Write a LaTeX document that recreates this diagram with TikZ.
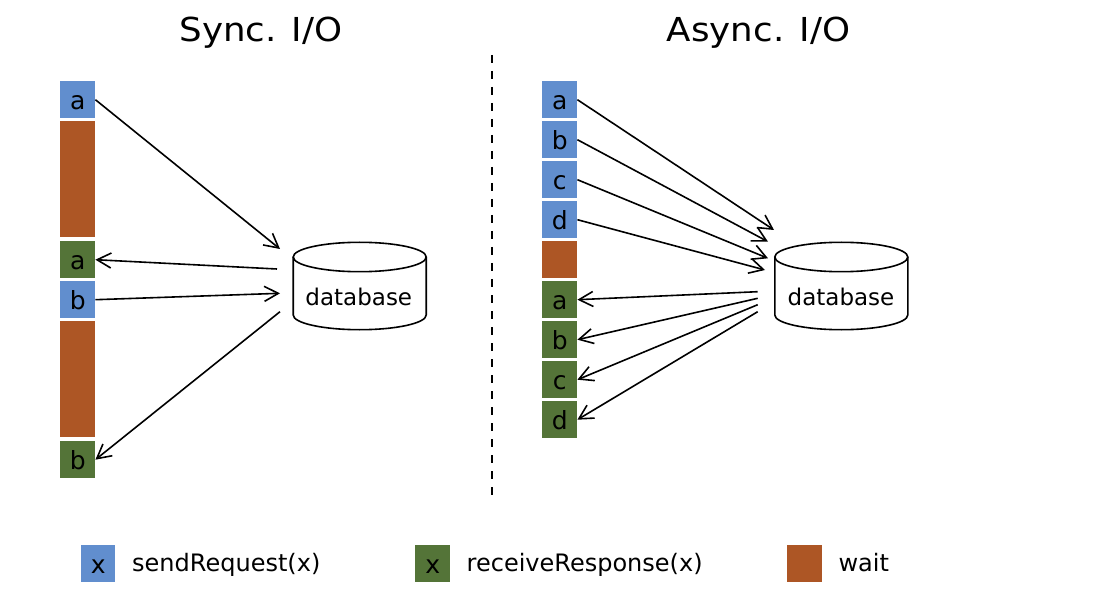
\documentclass[tikz,border=0pt]{standalone}
\usepackage{fontspec}
\setmainfont{DejaVu Sans}
\usetikzlibrary{arrows.meta,calc}
\definecolor{reqblue}{RGB}{97,142,206}
\definecolor{respgreen}{RGB}{84,116,56}
\definecolor{waitorange}{RGB}{173,86,37}
\begin{document}
\begin{tikzpicture}[x=1pt,y=-1pt,
  cell/.style={minimum width=35pt,minimum height=37pt,inner sep=0pt,
    text height=19.8pt,text depth=0pt,
    font=\fontsize{25}{25}\selectfont,anchor=north west},
  req/.style={cell,fill=reqblue},
  resp/.style={cell,fill=respgreen},
  waitbox/.style={cell,fill=waitorange},
  msg/.style={-{Straight Barb[length=14pt,width=15pt]},line width=1.6pt},
  title/.style={font=\fontsize{33}{33}\selectfont,anchor=base,inner sep=0pt},
  dblabel/.style={font=\fontsize{23}{23}\selectfont,inner sep=0pt},
  drum/.style={line width=1.6pt},
  legendtext/.style={font=\fontsize{24}{24}\selectfont,anchor=base west,inner sep=0pt},
]
\useasboundingbox (0,0) rectangle (1098,604);

% titles and separator
\node[title] (tsync) at (261,42) {\scalebox{1.08}[1]{Sync. I/O}};
\node[title] (tasync) at (758.5,42) {\scalebox{1.08}[1]{Async. I/O}};
\draw[line width=2pt,dash pattern=on 8pt off 8pt] (492,55) -- (492,502);

% ---------- synchronous timeline ----------
\node[req]  (sa)  at (60,81)  {a};
\node[waitbox,minimum height=116pt] (sw1) at (60,121) {};
\node[resp] (ra)  at (60,241) {a};
\node[req]  (sb)  at (60,281) {b};
\node[waitbox,minimum height=116pt] (sw2) at (60,321) {};
\node[resp] (rb)  at (60,441) {b};

% database drum
\draw[drum] (359.7,257) ellipse [x radius=66.5, y radius=14.7];
\draw[drum] (293.2,257) -- (293.2,315)
  arc[start angle=180,end angle=0,x radius=66.5,y radius=14.7] -- (426.2,257);
\node[dblabel] (db1) at (358.8,297) {database};

\coordinate (s-in-a)  at (280,249);
\coordinate (s-out-a) at (277,269);
\coordinate (s-in-b)  at (280,293.3);
\coordinate (s-out-b) at (280,311.7);

\draw[msg] (sa.east) -- (s-in-a);
\draw[msg] (s-out-a) -- (ra.east);
\draw[msg] (sb.east) -- (s-in-b);
\draw[msg] (s-out-b) -- (rb.east);

% ---------- asynchronous timeline ----------
\node[req]  (asa) at (542,81)  {a};
\node[req]  (asb) at (542,121) {b};
\node[req]  (asc) at (542,161) {c};
\node[req]  (asd) at (542,201) {d};
\node[waitbox] (aw) at (542,241) {};
\node[resp] (ara) at (542,281) {a};
\node[resp] (arb) at (542,321) {b};
\node[resp] (arc) at (542,361) {c};
\node[resp] (ard) at (542,401) {d};

\draw[drum] (841.3,257) ellipse [x radius=66.5, y radius=14.7];
\draw[drum] (774.8,257) -- (774.8,315)
  arc[start angle=180,end angle=0,x radius=66.5,y radius=14.7] -- (907.8,257);
\node[dblabel] (db2) at (841,297) {database};

\coordinate (a-in-a) at (774,230);
\coordinate (a-in-b) at (768,241.7);
\coordinate (a-in-c) at (768,258.3);
\coordinate (a-in-d) at (765,270);
\coordinate (a-out-a) at (757.7,291.7);
\coordinate (a-out-b) at (757.7,298.3);
\coordinate (a-out-c) at (757.7,304.7);
\coordinate (a-out-d) at (757.7,311.7);

\draw[msg] (asa.east) -- (a-in-a);
\draw[msg] (asb.east) -- (a-in-b);
\draw[msg] (asc.east) -- (a-in-c);
\draw[msg] (asd.east) -- (a-in-d);
\draw[msg] (a-out-a) -- (ara.east);
\draw[msg] (a-out-b) -- (arb.east);
\draw[msg] (a-out-c) -- (arc.east);
\draw[msg] (a-out-d) -- (ard.east);

% ---------- legend ----------
\node[req,minimum width=34pt,minimum height=36.5pt] (lreq) at (81,545) {x};
\node[legendtext] (lreqt) at (132,571) {sendRequest(x)};
\node[resp,minimum width=35pt,minimum height=36.5pt] (lresp) at (415,545) {x};
\node[legendtext] (lrespt) at (466.5,571) {receiveResponse(x)};
\node[waitbox,minimum width=35pt,minimum height=36.5pt] (lwait) at (787,545) {};
\node[legendtext] (lwaitt) at (838.3,571) {wait};
\end{tikzpicture}
\end{document}
